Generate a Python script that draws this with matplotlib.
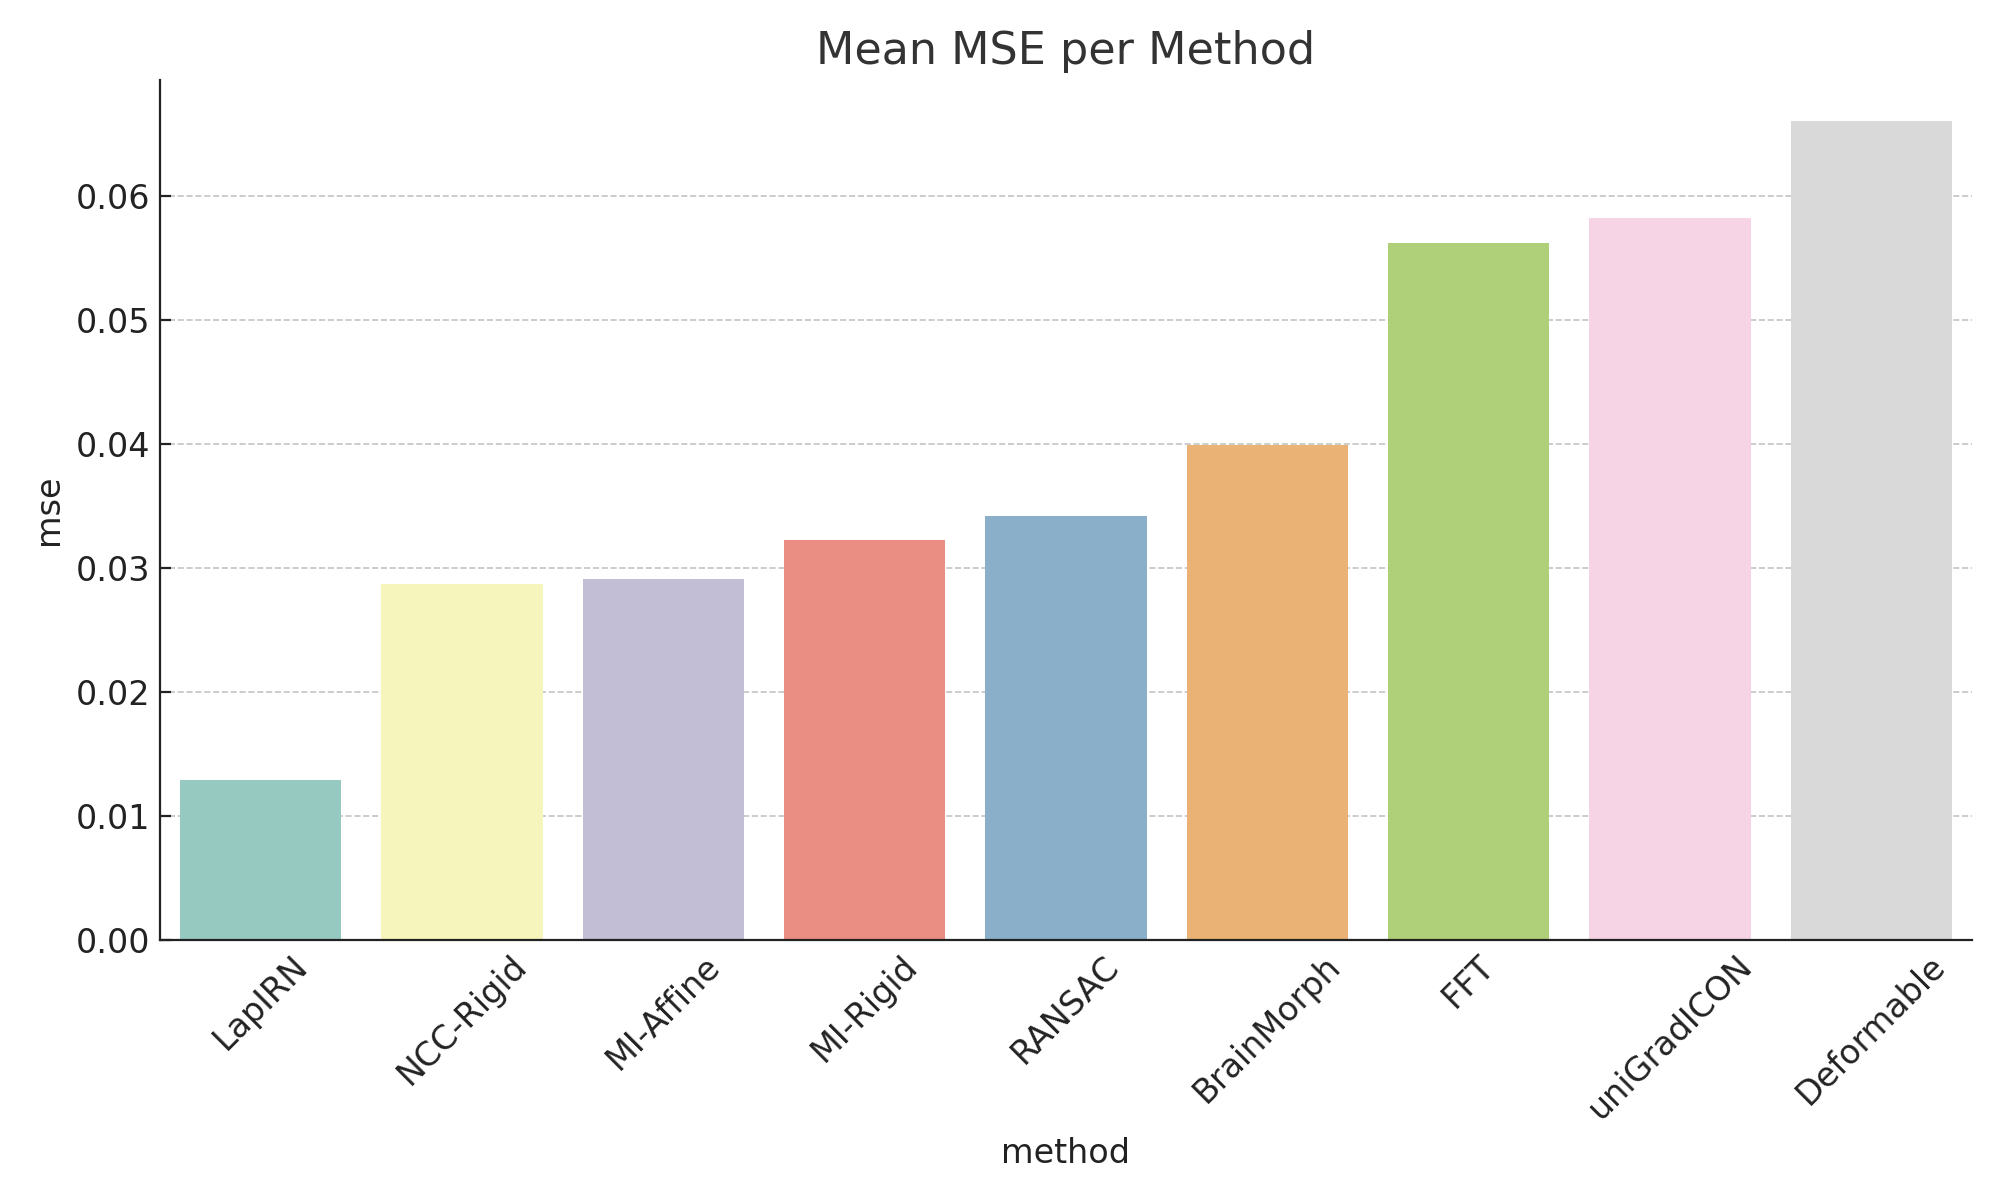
import matplotlib
matplotlib.use('Agg')
import matplotlib.pyplot as plt
import seaborn as sns
import pandas as pd

# mean mse per method
methods = ['LapIRN', 'NCC-Rigid', 'MI-Affine', 'MI-Rigid', 'RANSAC',
           'BrainMorph', 'FFT', 'uniGradICON', 'Deformable']
mse_values = [0.0129, 0.0287, 0.0291, 0.0322, 0.0342,
              0.0399, 0.0562, 0.0582, 0.0660]

df = pd.DataFrame({'method': methods, 'mse': mse_values})

plt.rcParams['font.family'] = ['DejaVu Sans']
plt.rcParams['xtick.direction'] = 'in'
plt.rcParams['ytick.direction'] = 'in'

fig, ax = plt.subplots(figsize=(10, 6), dpi=200)
sns.barplot(data=df, x='method', y='mse', hue='method', palette='Set3',
            saturation=0.75, legend=False, ax=ax)

ax.set_title('Mean MSE per Method', fontsize=16, color='#333333')
ax.set_xlabel('method', fontsize=12, color='#222222')
ax.set_ylabel('mse', fontsize=12, color='#222222')
ax.tick_params(axis='both', labelsize=12, colors='#222222', length=4, width=0.8)
plt.xticks(rotation=45)

ax.yaxis.grid(True, linestyle='--', color='#c4c4c4', linewidth=0.6)
ax.set_axisbelow(True)
ax.spines['top'].set_visible(False)
ax.spines['right'].set_visible(False)
ax.spines['left'].set_color('#222222')
ax.spines['bottom'].set_color('#222222')
ax.set_xlim(-0.5, 8.5)

plt.subplots_adjust(left=0.08, right=0.986, top=0.933, bottom=0.217)
plt.savefig('out.png')
